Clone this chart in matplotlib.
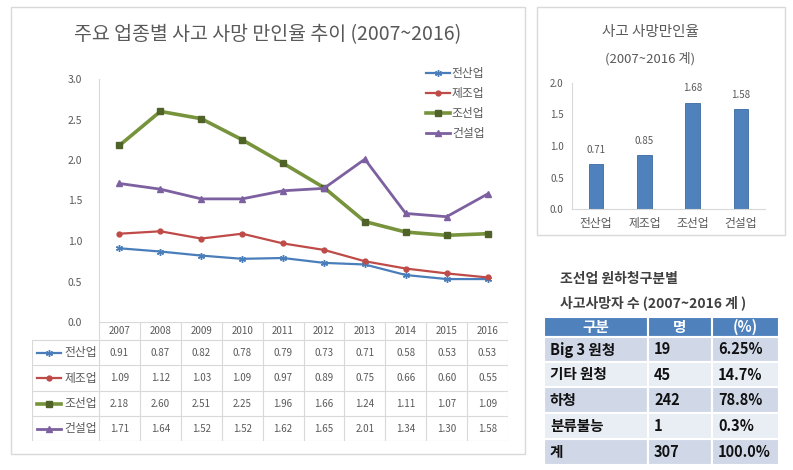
import matplotlib
matplotlib.use("Agg")
import matplotlib.pyplot as plt
from matplotlib.patches import Rectangle

plt.rcParams['font.family'] = ['Noto Sans CJK KR', 'DejaVu Sans']

# ---- data ----
years = ['2007', '2008', '2009', '2010', '2011', '2012', '2013', '2014', '2015', '2016']
industries = ['전산업', '제조업', '조선업', '건설업']
rate_all = [0.91, 0.87, 0.82, 0.78, 0.79, 0.73, 0.71, 0.58, 0.53, 0.53]
rate_manuf = [1.09, 1.12, 1.03, 1.09, 0.97, 0.89, 0.75, 0.66, 0.60, 0.55]
rate_ship = [2.18, 2.60, 2.51, 2.25, 1.96, 1.66, 1.24, 1.11, 1.07, 1.09]
rate_const = [1.71, 1.64, 1.52, 1.52, 1.62, 1.65, 2.01, 1.34, 1.30, 1.58]

total_rate = [0.71, 0.85, 1.68, 1.58]

tbl_header = ['구분', '명', '(%)']
tbl_groups = ['Big 3 원청', '기타 원청', '하청', '분류불능', '계']
tbl_count = ['19', '45', '242', '1', '307']
tbl_pct = ['6.25%', '14.7%', '78.8%', '0.3%', '100.0%']

W, H = 793, 470
fig = plt.figure(figsize=(W / 100, H / 100), dpi=100)
fig.patch.set_facecolor('white')


def px_rect(x0, y0, x1, y1):
    return [x0 / W, 1 - y1 / H, (x1 - x0) / W, (y1 - y0) / H]


gray = '#595959'
grid = '#d9d9d9'

# panel frames
frame = fig.add_axes([0, 0, 1, 1], zorder=-5)
frame.set_xlim(0, W)
frame.set_ylim(H, 0)
frame.axis('off')
frame.add_patch(Rectangle((11, 7), 514, 447, fill=False, ec=grid, lw=1))
frame.add_patch(Rectangle((537, 7), 248, 228, fill=False, ec=grid, lw=1))

# ---- line chart ----
series = [
    (rate_all, '#4a7ebb', (6, 2, 0), 5, 1.6),
    (rate_manuf, '#be4b48', 'o', 3.5, 1.6),
    (rate_ship, '#77933c', 's', 4.5, 2.6),
    (rate_const, '#7d60a0', '^', 4, 2.0),
]
mk_face = ['#4a7ebb', '#be4b48', '#4f6228', '#7d60a0']

ax = fig.add_axes(px_rect(99, 79, 508, 322))
x = list(range(len(years)))
handles = []
for (vals, c, m, ms, lw), name, fc in zip(series, industries, mk_face):
    h, = ax.plot(x, vals, color=c, marker=m, markersize=ms, lw=lw,
                 markerfacecolor=fc, markeredgecolor=fc, label=name)
    handles.append(h)
ax.set_xlim(-0.5, 9.5)
ax.set_ylim(0, 3)
ax.set_yticks([0, 0.5, 1.0, 1.5, 2.0, 2.5, 3.0])
ax.set_yticklabels(['0.0', '0.5', '1.0', '1.5', '2.0', '2.5', '3.0'], color=gray, fontsize=7.5)
ax.tick_params(axis='y', length=0, pad=12)
ax.set_xticks([])
for s in ['top', 'right', 'bottom']:
    ax.spines[s].set_visible(False)
ax.spines['left'].set_color(grid)
fig.text(268 / W, 1 - 35 / H, '주요 업종별 사고 사망 만인율 추이 (2007~2016)',
         ha='center', va='center', fontsize=14, color=gray)
fig.legend(handles=handles, loc='upper left', bbox_to_anchor=(420 / W, 1 - 61 / H),
           frameon=False, fontsize=8.5, handlelength=2.0, handletextpad=0.2,
           labelspacing=0.6, borderpad=0, labelcolor=gray)

# ---- data table under the line chart ----
tx = fig.add_axes(px_rect(32, 322, 508, 441))
label_w = (99 - 32) / ((508 - 99) / 10)
tx.set_xlim(-0.5 - label_w, 9.5)
row_edges = [322, 340, 365, 391, 416, 441]
tx.set_ylim(row_edges[-1], row_edges[0])
tx.axis('off')
for i in range(len(years) + 1):
    tx.plot([i - 0.5, i - 0.5], [row_edges[0], row_edges[-1]], color=grid, lw=0.8)
tx.plot([-0.5 - label_w] * 2, [row_edges[1], row_edges[-1]], color=grid, lw=0.8)
for j, yv in enumerate(row_edges):
    x0 = -0.5 if j == 0 else -0.5 - label_w
    tx.plot([x0, 9.5], [yv, yv], color=grid, lw=0.8)
for i, yr in enumerate(years):
    tx.text(i, (row_edges[0] + row_edges[1]) / 2, yr, ha='center', va='center',
            fontsize=7, color=gray)
all_vals = [rate_all, rate_manuf, rate_ship, rate_const]
for r, (vals, name) in enumerate(zip(all_vals, industries)):
    yc = (row_edges[r + 1] + row_edges[r + 2]) / 2
    for i, v in enumerate(vals):
        tx.text(i, yc, f'{v:.2f}', ha='center', va='center', fontsize=7, color=gray)
    c, m, ms, lw = series[r][1], series[r][2], series[r][3], series[r][4]
    lx0 = -0.5 - label_w + 0.12
    tx.plot([lx0, lx0 + 0.6], [yc, yc], color=c, lw=lw)
    tx.plot([lx0 + 0.3], [yc], marker=m, color=mk_face[r], markersize=ms)
    tx.text(-0.55, yc, name, ha='right', va='center', fontsize=8.5, color=gray)

# ---- bar chart ----
bx = fig.add_axes(px_rect(572, 83, 765, 209))
bpos = list(range(len(industries)))
bars = bx.bar(bpos, total_rate, width=0.3, color='#4f81bd', edgecolor='#3a6aa3', lw=0.6)
for b, v in zip(bars, total_rate):
    bx.annotate(f'{v:.2f}', (b.get_x() + b.get_width() / 2, v), xytext=(0, 7),
                textcoords='offset points', ha='center', va='bottom', fontsize=7, color=gray)
bx.set_xlim(-0.5, 3.5)
bx.set_ylim(0, 2)
bx.set_yticks([0, 0.5, 1.0, 1.5, 2.0])
bx.set_yticklabels(['0.0', '0.5', '1.0', '1.5', '2.0'], color=gray, fontsize=7)
bx.set_xticks(bpos)
bx.set_xticklabels(industries, color=gray, fontsize=8.5)
bx.tick_params(length=0, pad=6)
for s in ['top', 'right']:
    bx.spines[s].set_visible(False)
bx.spines['left'].set_color(grid)
bx.spines['bottom'].set_color(grid)
fig.text(650 / W, 1 - 32 / H, '사고 사망만인율', ha='center', va='center',
         fontsize=10.5, color=gray)
fig.text(650 / W, 1 - 59 / H, '(2007~2016 계)', ha='center', va='center',
         fontsize=9.5, color=gray)

# ---- shipbuilding table ----
fig.text(560 / W, 1 - 279 / H, '조선업 원하청구분별', ha='left', va='center',
         fontsize=10, color='#404040', fontweight='bold')
fig.text(560 / W, 1 - 303 / H, '사고사망자 수 (2007~2016 계 )', ha='left', va='center',
         fontsize=10, color='#404040', fontweight='bold')

sx = fig.add_axes(px_rect(544, 317, 779, 465))
col_edges = [0, 104, 168, 235]
srow_edges = [0, 20, 45, 70, 96, 122, 148]
sx.set_xlim(0, 235)
sx.set_ylim(148, 0)
sx.axis('off')
for r in range(len(srow_edges) - 1):
    if r == 0:
        fc = '#4f81bd'
    elif r % 2 == 1:
        fc = '#d0d8e8'
    else:
        fc = '#e9edf4'
    for c in range(3):
        sx.add_patch(Rectangle((col_edges[c], srow_edges[r]), col_edges[c + 1] - col_edges[c],
                               srow_edges[r + 1] - srow_edges[r], fc=fc, ec='white', lw=1.5))
for c, txt in enumerate(tbl_header):
    sx.text((col_edges[c] + col_edges[c + 1]) / 2, srow_edges[0] + 10, txt, ha='center',
            va='center', fontsize=10.5, color='white', fontweight='bold')
for r, row in enumerate(zip(tbl_groups, tbl_count, tbl_pct)):
    yc = (srow_edges[r + 1] + srow_edges[r + 2]) / 2
    for c, txt in enumerate(row):
        sx.text(col_edges[c] + 6, yc, txt, ha='left', va='center', fontsize=10.5,
                color='#111111', fontweight='bold')

fig.savefig('out.png', dpi=100, facecolor='white')
